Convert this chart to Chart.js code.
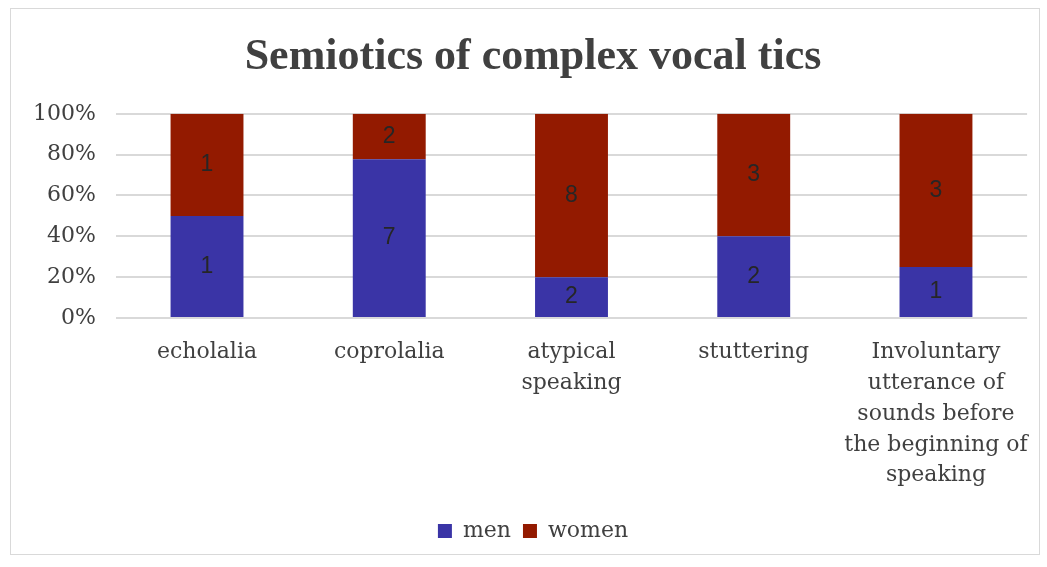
<!DOCTYPE html>
<html>
<head>
<meta charset="utf-8">
<script src="https://cdn.jsdelivr.net/npm/chart.js@4"></script>
<style>
  html, body { margin: 0; padding: 0; background: #fff; }
  #box {
    position: absolute; left: 10px; top: 8px;
    width: 1030px; height: 547px;
    border: 1px solid #d9d9d9; box-sizing: border-box;
  }
</style>
</head>
<body>
<div id="box"><canvas id="barChart"></canvas></div>
<script>
// categories and counts
var categories = [
  'echolalia',
  'coprolalia',
  ['atypical', 'speaking'],
  'stuttering',
  ['Involuntary', 'utterance of', 'sounds before', 'the beginning of', 'speaking']
];
var menCounts = [1, 7, 2, 2, 1];
var womenCounts = [1, 2, 8, 3, 3];
var yTicks = [0, 20, 40, 60, 80, 100];

// share of each group within a category (100% stacked)
function share(part, other) {
  return part.map(function (v, i) { return v / (v + other[i]) * 100; });
}

var textFont = "'DejaVu Serif', serif";
var titleFont = "'Liberation Serif', 'DejaVu Serif', serif";

// writes the raw counts in the middle of each segment
var countLabels = {
  id: 'countLabels',
  afterDatasetsDraw: function (chart) {
    var ctx = chart.ctx;
    ctx.save();
    ctx.font = '23px "Liberation Sans", sans-serif';
    ctx.fillStyle = '#262626';
    ctx.textAlign = 'center';
    ctx.textBaseline = 'middle';
    chart.data.datasets.forEach(function (ds, di) {
      chart.getDatasetMeta(di).data.forEach(function (bar, i) {
        var mid = (bar.y + bar.base) / 2;
        ctx.fillText(ds.counts[i], bar.x, mid);
      });
    });
    ctx.restore();
  }
};

var ctx = document.getElementById('barChart').getContext('2d');
var myChart = new Chart(ctx, {
  type: 'bar',
  data: {
    labels: categories,
    datasets: [{
      label: 'men',
      counts: menCounts,
      data: share(menCounts, womenCounts),
      backgroundColor: '#3a34a6'
    }, {
      label: 'women',
      counts: womenCounts,
      data: share(womenCounts, menCounts),
      backgroundColor: '#931a00'
    }]
  },
  options: {
    responsive: true,
    maintainAspectRatio: false,
    animation: false,
    layout: { padding: { top: 22, left: 20, right: 4, bottom: 2 } },
    datasets: { bar: { barPercentage: 0.4, categoryPercentage: 1 } },
    scales: {
      x: {
        stacked: true,
        grid: { display: false },
        border: { display: false },
        afterFit: function (axis) { axis.height += 6; },
        ticks: {
          color: '#404040',
          font: { family: textFont, size: 22, lineHeight: 1.4 },
          maxRotation: 0, autoSkip: false, padding: 11
        }
      },
      y: {
        stacked: true,
        min: 0, max: 100,
        afterBuildTicks: function (axis) {
          axis.ticks = yTicks.map(function (v) { return { value: v }; });
        },
        // labels may hang into the left padding
        afterFit: function (axis) { axis.width -= 18; },
        grid: { color: '#d9d9d9', lineWidth: 2, drawTicks: false },
        border: { display: false },
        ticks: {
          color: '#404040',
          font: { family: textFont, size: 22 },
          padding: 20,
          callback: function (v) { return v + '%'; }
        }
      }
    },
    plugins: {
      title: {
        display: true,
        text: 'Semiotics of complex vocal tics',
        color: '#404040',
        font: { family: titleFont, size: 44, weight: 'bold' },
        padding: { top: 0, bottom: 30 }
      },
      legend: {
        position: 'bottom',
        labels: {
          color: '#404040',
          font: { family: textFont, size: 22 },
          boxWidth: 14, boxHeight: 14,
          padding: 12
        }
      },
      tooltip: { enabled: false }
    }
  },
  plugins: [countLabels]
});
</script>
</body>
</html>
